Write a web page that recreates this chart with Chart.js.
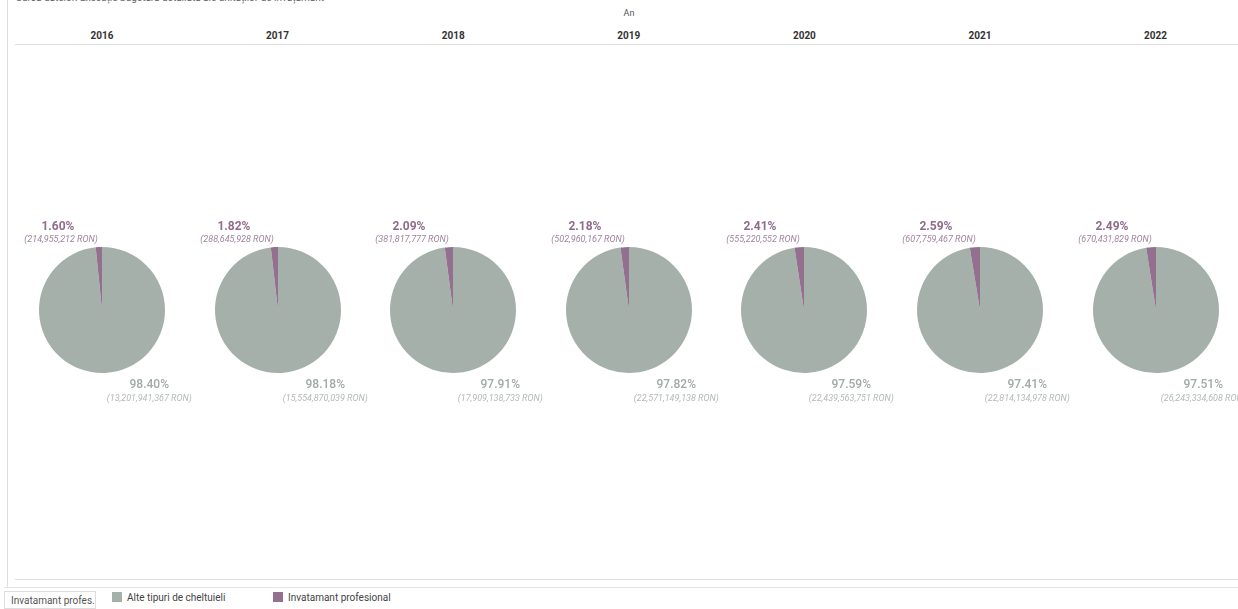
<!DOCTYPE html>
<html lang="ro">
<head>
  <meta charset="UTF-8">
  <title>Invatamant profesional</title>
  <style>
    body { margin: 0; width: 1238px; height: 609px; overflow: hidden; background: #fff; font-family: Roboto, "Noto Sans", sans-serif; position: relative; }
    .abs { position: absolute; }
    .src { left: 16px; top: -8px; font-size: 10px; color: #666; white-space: nowrap; }
    .an { left: 609px; width: 40px; text-align: center; top: 8px; font-size: 9px; color: #555; }
    .year { top: 30px; width: 100px; text-align: center; font-size: 10px; font-weight: bold; color: #333; }
    .hline { background: #ddd; height: 1px; }
    .vline { background: #ddd; width: 1px; }
    canvas.pie { position: absolute; }
    .legend { top: 592px; font-size: 10px; color: #444; white-space: nowrap; }
    .sw { display: inline-block; width: 10px; height: 10px; vertical-align: -1px; margin-right: 5px; }
    .filter { left: 4px; top: 591px; width: 92px; height: 18px; border: 1px solid #ddd; font-size: 10px; color: #555; line-height: 17px; padding-left: 6px; box-sizing: border-box; background: #fff; white-space: nowrap; overflow: hidden; }
  </style>
</head>
<body>
  <div class="abs src">Sursa datelor: Execuție bugetară detaliată ale unităților de învățământ</div>
  <div class="abs vline" style="left:7px; top:0; height:588px;"></div>
  <div class="abs an">An</div>
  <div class="abs hline" style="left:15px; top:44px; width:1223px;"></div>
  <div class="abs hline" style="left:15px; top:579px; width:1223px;"></div>
  <div class="abs hline" style="left:4px; top:587px; width:1234px; background:#e4e4e4;"></div>
  <div class="abs filter">Invatamant profes...</div>
  <div id="legend"></div>
  <div id="pies"></div>

  <script src="https://cdn.jsdelivr.net/npm/chart.js"></script>
  <script>
const years = ['2016', '2017', '2018', '2019', '2020', '2021', '2022'];
const categories = ['Alte tipuri de cheltuieli', 'Invatamant profesional'];
const colors = ['#a6b0aa', '#94708f'];
// sume in RON
const alteRon = [13201941367, 15554870039, 17909138733, 22571149138, 22439563751, 22814134978, 26243334608];
const profRon = [214955212, 288645928, 381817777, 502960167, 555220552, 607759467, 670431829];
// procente afisate
const altePct = ['98.40%', '98.18%', '97.91%', '97.82%', '97.59%', '97.41%', '97.51%'];
const profPct = ['1.60%', '1.82%', '2.09%', '2.18%', '2.41%', '2.59%', '2.49%'];

const colW = 175.6;
const firstCenter = 102;
const pieCy = 310;

// legenda jos
const legend = document.getElementById('legend');
[[112, 0], [273, 1]].forEach(([x, i]) => {
  const d = document.createElement('div');
  d.className = 'abs legend';
  d.style.left = x + 'px';
  d.innerHTML = '<span class="sw" style="background:' + colors[i] + '"></span>' + categories[i];
  legend.appendChild(d);
});

const fmt = v => '(' + v.toLocaleString('en-US') + ' RON)';

const labelPlugin = {
  id: 'labelPlugin',
  afterDraw: (chart) => {
    const ctx = chart.ctx;
    const i = chart.options.yearIndex;
    const arc = chart.getDatasetMeta(0).data[1];
    const x = arc.x, y = arc.y, r = arc.outerRadius;
    ctx.save();
    ctx.textAlign = 'center';
    ctx.textBaseline = 'middle';
    // eticheta invatamant profesional (sus-stanga)
    ctx.fillStyle = '#8f6c8c';
    ctx.font = 'bold 12px Roboto, sans-serif';
    ctx.fillText(profPct[i], x - r * 0.7, y - r - 20);
    ctx.fillStyle = '#a0849d';
    ctx.font = 'italic 9px Roboto, sans-serif';
    ctx.fillText(fmt(profRon[i]), x - r * 0.65, y - r - 7);
    // eticheta alte cheltuieli (jos-dreapta)
    ctx.fillStyle = '#a0a9a3';
    ctx.font = '500 12px Roboto, sans-serif';
    ctx.fillText(altePct[i], x + r * 0.75, y + r + 12);
    ctx.fillStyle = '#b3bab5';
    ctx.font = 'italic 9px Roboto, sans-serif';
    ctx.fillText(fmt(alteRon[i]), x + r * 0.75, y + r + 26);
    ctx.restore();
  }
};

const pies = document.getElementById('pies');
years.forEach((yr, i) => {
  const cx = firstCenter + i * colW;

  const h = document.createElement('div');
  h.className = 'abs year';
  h.style.left = (cx - 50) + 'px';
  h.textContent = yr;
  pies.appendChild(h);

  const c = document.createElement('canvas');
  c.className = 'pie';
  c.width = 240;
  c.height = 200;
  c.style.left = (cx - 120) + 'px';
  c.style.top = (pieCy - 100) + 'px';
  pies.appendChild(c);

  new Chart(c.getContext('2d'), {
    type: 'pie',
    data: {
      labels: categories,
      datasets: [{
        data: [alteRon[i], profRon[i]],
        backgroundColor: colors,
        borderWidth: 0
      }]
    },
    options: {
      responsive: false,
      animation: false,
      yearIndex: i,
      layout: { padding: { left: 57, right: 57, top: 37, bottom: 37 } },
      plugins: {
        legend: { display: false },
        tooltip: { enabled: false }
      }
    },
    plugins: [labelPlugin]
  });
});
  </script>
</body>
</html>
